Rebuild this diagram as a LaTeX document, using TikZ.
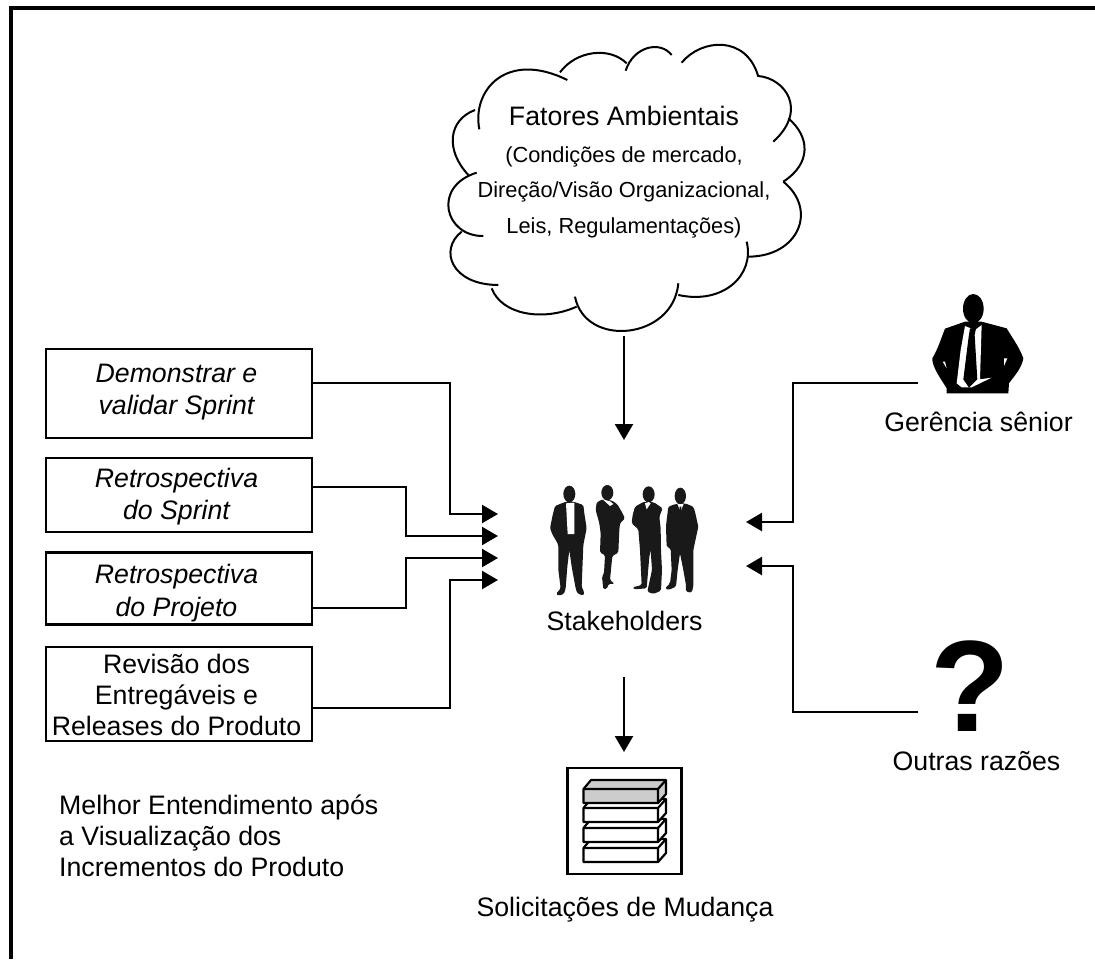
\documentclass[tikz,border=0pt]{standalone}
\usepackage{fontspec}
\setmainfont{Liberation Sans}
\usetikzlibrary{arrows.meta}
\tikzset{
  conn/.style={line width=2.2pt,-{Triangle[length=16pt,width=18pt]}},
  boxn/.style={draw,line width=2.6pt,minimum width=266pt,inner sep=0pt},
  boxt/.style={align=center,font=\fontsize{26.7}{32}\selectfont,inner sep=0pt},
  lab/.style={align=center,font=\fontsize{26.7}{31}\selectfont,inner sep=0pt},
  sublab/.style={lab,font=\fontsize{21.8}{30}\selectfont},
  cloudline/.style={line width=2pt},
  sil/.style={fill=black!90,draw=none,rounded corners=1.5pt},
  shirt/.style={fill=white,draw=none},
}
\newcommand{\layer}[2]{%
  \fill[#2,draw=black,line width=2.2pt,line join=round] (583.5,#1) -- (591,{#1-9}) -- (666,{#1-9}) -- (666,{#1+5}) -- (658,{#1+14}) -- (583.5,{#1+14}) -- cycle;
  \draw[line width=2.2pt,line join=round] (583.5,#1) -- (658,#1) -- (666,{#1-9}) (658,#1) -- (658,{#1+14});
}
\begin{document}
\begin{tikzpicture}[x=1pt,y=-1pt]
\useasboundingbox (0,0) rectangle (1095,959);
\draw[line width=4.2pt] (11,959) -- (11,8) -- (1095,8);
% cloud
\begin{scope}[shift={(430,40)},x=0.3333pt,y=-0.3333pt,cloudline]
\draw (148,268) .. controls (125,150) and (230,30) .. (412,120);
\draw (390,97) .. controls (440,30) and (540,20) .. (590,70);
\draw (587,92) .. controls (610,20) and (690,0) .. (725,45);
\draw (755,68) .. controls (815,-5) and (950,-15) .. (985,110);
\draw (985,108) .. controls (1065,115) and (1135,210) .. (1030,305);
\draw (1075,235) .. controls (1140,290) and (1145,370) .. (1060,425);
\draw (1060,425) .. controls (1165,510) and (1105,650) .. (955,650);
\draw (950,605) .. controls (975,705) and (880,795) .. (745,765);
\draw (745,730) .. controls (730,900) and (465,925) .. (435,770);
\draw (440,800) .. controls (340,845) and (215,825) .. (185,745);
\draw (205,735) .. controls (65,735) and (25,630) .. (95,575);
\draw (160,588) .. controls (45,590) and (5,440) .. (140,398);
\draw (115,405) .. controls (45,330) and (55,240) .. (135,210);
\end{scope}
\node[lab] (fa) at (624,116) {Fatores Ambientais};
\node[sublab] (fb) at (624,157) {(Condições de mercado,};
\node[sublab] (fc) at (624,192) {Direção/Visão Organizacional,};
\node[sublab] (fd) at (624,228) {Leis, Regulamentações)};
% boxes
\node[boxn,minimum height=89pt] (b1) at (179,393.5) {};
\node[boxn,minimum height=74pt] (b2) at (179,495) {};
\node[boxn,minimum height=72pt] (b3) at (179,588.5) {};
\node[boxn,minimum height=94pt] (b4) at (179,694) {};
\node[boxt] (t1x) at (176.5,392.5) {\itshape Demonstrar e\\\itshape validar Sprint};
\node[boxt] (t2x) at (176.5,497) {\itshape Retrospectiva\\\itshape do Sprint};
\node[boxt,font=\fontsize{26.7}{33}\selectfont] (t3x) at (176.5,593) {\itshape Retrospectiva\\\itshape do Projeto};
\node[boxt,font=\fontsize{26.7}{31}\selectfont] (t4x) at (176.5,695) {Revisão dos\\Entregáveis e\\Releases do Produto};
\node[lab,align=left,anchor=north west] (mel) at (59,795) {Melhor Entendimento após\\a Visualização dos\\Incrementos do Produto};
% stakeholders
\node[lab] (st) at (624.5,621) {Stakeholders};
\begin{scope}[shift={(530,470)},x=0.3333pt,y=-0.3333pt]
\fill[black!90] (118,72) ellipse (18 and 25);
\fill[sil] (108,95) -- (75,108) -- (68,135) -- (60,175) -- (68,195) -- (80,215) -- (85,225) -- (85,300) -- (92,355) -- (78,372) -- (85,377) -- (102,372) -- (107,355) -- (112,290) -- (118,240) -- (125,290) -- (137,355) -- (142,370) -- (160,377) -- (163,368) -- (155,350) -- (157,300) -- (160,225) -- (170,175) -- (163,130) -- (160,105) -- (130,95) -- cycle;
\fill[shirt] (108,100) -- (133,98) -- (133,192) -- (113,192) -- cycle;
\fill[black!90] (232,68) ellipse (18 and 23);
\fill[sil] (218,88) -- (200,97) -- (197,120) -- (208,160) -- (212,190) -- (210,248) -- (225,255) -- (222,310) -- (216,320) -- (220,358) -- (232,355) -- (235,342) -- (254,342) -- (240,330) -- (247,258) -- (265,248) -- (268,180) -- (270,160) -- (285,145) -- (275,125) -- (262,103) -- (247,92) -- cycle;
\fill[shirt] (218,88) -- (240,108) -- (250,102) -- (240,94) -- cycle;
\fill[black!90] (356,73) ellipse (18 and 24);
\fill[sil] (342,95) -- (315,110) -- (308,135) -- (305,160) -- (325,178) -- (330,240) -- (335,345) -- (308,352) -- (312,358) -- (350,355) -- (358,260) -- (362,240) -- (366,300) -- (352,365) -- (370,372) -- (393,362) -- (396,300) -- (393,240) -- (392,175) -- (388,140) -- (398,115) -- (372,97) -- cycle;
\fill[shirt] (345,100) -- (350,118) -- (362,100) -- (356,96) -- cycle;
\fill[black!90] (451,78) ellipse (17 and 25);
\fill[sil] (437,102) -- (415,110) -- (410,150) -- (408,170) -- (410,230) -- (422,236) -- (425,300) -- (420,340) -- (405,355) -- (415,360) -- (438,350) -- (443,300) -- (450,250) -- (460,300) -- (468,345) -- (468,365) -- (485,368) -- (490,350) -- (490,240) -- (505,170) -- (495,125) -- (490,110) -- (465,100) -- cycle;
\fill[shirt] (442,102) -- (461,102) -- (452,124) -- cycle;
\fill[black!90] (449,110) -- (454,110) -- (456,150) -- (451,158) -- (447,150) -- cycle;
\end{scope}
% change requests
\node[draw,line width=2.3pt,minimum width=114pt,minimum height=106pt,inner sep=0pt] (cr) at (624.5,821) {};
\layer{848}{white}
\layer{828}{white}
\layer{808}{white}
\layer{789}{black!20}
\node[lab] (sol) at (625,910) {Solicitações de Mudança};
% senior
\begin{scope}[shift={(900,280)},x=0.3333pt,y=-0.3333pt]
\fill[black] (220,86) ellipse (31 and 44);
\fill[black] (195,125) -- (135,146) .. controls (125,170) and (115,205) .. (97,235) .. controls (95,260) and (125,300) .. (140,325) -- (140,340) -- (325,340) -- (327,310) .. controls (345,285) and (365,265) .. (370,235) .. controls (360,205) and (335,170) .. (320,145) -- (245,125) -- cycle;
\fill[white] (195,138) -- (182,210) -- (170,310) -- (185,322) -- (215,322) -- (275,293) -- (240,298) -- (245,135) -- (225,150) -- cycle;
\fill[black] (206,170) -- (190,298) -- (207,323) -- (232,298) -- (224,165) -- (228,145) -- (210,145) -- cycle;
\fill[white] (128,245) -- (140,265) -- (135,245) -- cycle;
\fill[white] (312,235) -- (322,235) -- (312,258) -- cycle;
\end{scope}
\node[lab] (ger) at (978.5,422) {Gerência sênior};
\node[font=\bfseries\fontsize{130}{130}\selectfont,inner sep=0pt] (q) at (970.5,686) {?};
\node[lab] (out) at (976.5,761) {Outras razões};
% connectors
\coordinate (a1) at (498,514); \coordinate (j1) at (450,383);
\coordinate (a2) at (498,536); \coordinate (j2) at (406,487);
\coordinate (a3) at (498,558); \coordinate (j3) at (406,608);
\coordinate (a4) at (498,580); \coordinate (j4) at (450,708);
\draw[conn] (b1.east |- j1) -- (j1) |- (a1);
\draw[conn] (b2.east |- j2) -- (j2) |- (a2);
\draw[conn] (b3.east |- j3) -- (j3) |- (a3);
\draw[conn] (b4.east |- j4) -- (j4) |- (a4);
\coordinate (t1) at (624,336); \coordinate (t2) at (624,440);
\draw[conn] (t1) -- (t2);
\coordinate (d1) at (624,677); \coordinate (d2) at (624,752);
\draw[conn] (d1) -- (d2);
\coordinate (r1) at (918,383); \coordinate (r1b) at (793,383); \coordinate (r1e) at (746,522);
\draw[conn] (r1) -- (r1b) |- (r1e);
\coordinate (r2) at (918,712); \coordinate (r2b) at (793,712); \coordinate (r2e) at (746,566);
\draw[conn] (r2) -- (r2b) |- (r2e);
\end{tikzpicture}
\end{document}
